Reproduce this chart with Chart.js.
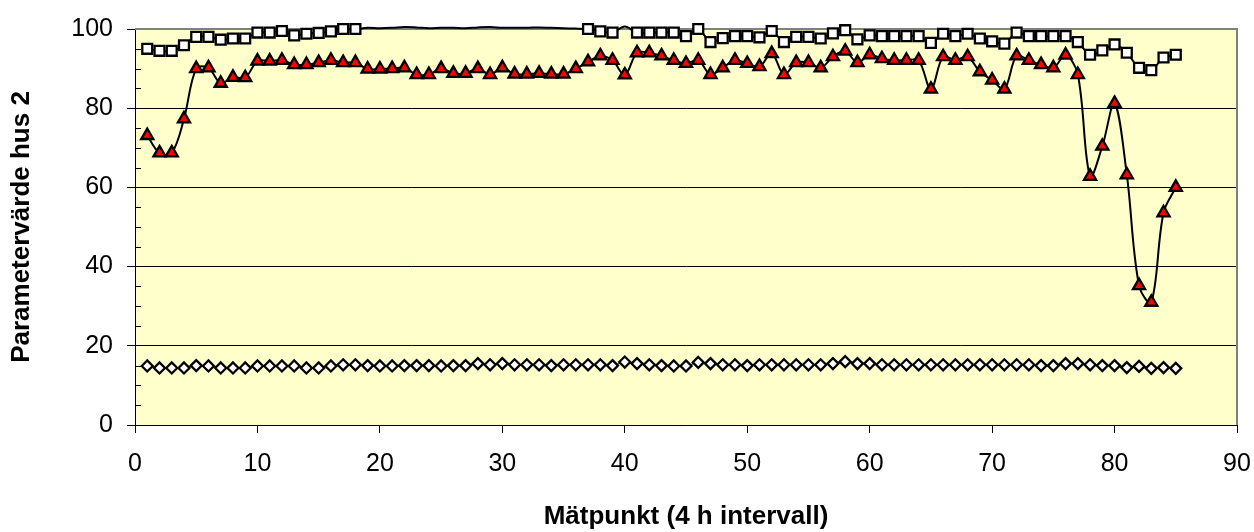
<!DOCTYPE html>
<html>
<head>
<meta charset="utf-8">
<script src="https://cdn.jsdelivr.net/npm/chart.js@4/dist/chart.umd.min.js"></script>
<style>
  body { margin: 0; background: #fff; }
  #wrap { width: 1254px; height: 532px; }
</style>
</head>
<body>
<div id="wrap"><canvas id="chart1"></canvas></div>
<script>
// mätpunkter (x)
const matpunkt = [1,2,3,4,5,6,7,8,9,10,11,12,13,14,15,16,17,18,19,20,
  21,22,23,24,25,26,27,28,29,30,31,32,33,34,35,36,37,38,39,40,
  41,42,43,44,45,46,47,48,49,50,51,52,53,54,55,56,57,58,59,60,
  61,62,63,64,65,66,67,68,69,70,71,72,73,74,75,76,77,78,79,80,
  81,82,83,84,85];

// fyrkanter (övre serien), värden över 100 hamnar utanför skalan
const serieKvadrat = [95.0,94.5,94.5,95.9,98.0,98.0,97.3,97.6,97.6,99.1,
  99.1,99.5,98.4,98.8,99.0,99.4,100,100,100.3,100.2,
  100.3,100.5,100.4,100.2,100.3,100.3,100.2,100.4,100.5,100.3,
  100.3,100.3,100.4,100.3,100.2,100.1,100,99.4,99.1,100.6,
  99.1,99.1,99.1,99.1,98.2,100,96.7,97.7,98.2,98.2,
  97.9,99.5,96.7,98.0,98.0,97.6,98.9,99.7,97.4,98.4,
  98.2,98.2,98.2,98.2,96.5,98.8,98.2,98.8,97.6,96.9,
  96.3,99.1,98.2,98.2,98.2,98.2,96.7,93.5,94.6,96.1,
  94.0,90.2,89.6,92.8,93.5];

// röda trianglar
const serieTriangel = [73.1,68.7,68.7,77.3,90.0,90.2,86.3,87.8,87.7,91.9,
  91.9,92.1,91.0,91.0,91.5,92.1,91.5,91.5,89.9,89.9,
  90.0,90.2,88.5,88.5,90.0,88.8,88.8,90.0,88.5,90.2,
  88.6,88.6,88.8,88.6,88.6,90.0,91.7,93.2,92.1,88.4,
  94.0,94.0,93.2,92.1,91.3,92.1,88.5,90.2,92.1,91.3,
  90.5,93.8,88.5,91.5,91.5,90.2,93.0,94.4,91.5,93.5,
  92.5,92.1,92.1,92.1,84.8,93.0,92.1,93.0,89.2,87.1,
  84.8,93.2,92.1,91.0,90.2,93.4,88.5,62.8,70.4,81.2,
  63.2,35.2,31.0,53.6,60.0];

// romber (nedre serien)
const serieRomb = [14.9,14.4,14.4,14.4,15.0,14.9,14.4,14.4,14.4,14.9,
  14.9,14.9,14.9,14.4,14.4,14.9,15.2,15.2,15.0,14.9,
  14.9,15.0,15.0,15.0,14.9,15.0,15.0,15.5,15.2,15.5,
  15.2,15.2,15.2,15.0,15.2,15.2,15.2,15.2,15.0,15.9,
  15.5,15.2,15.0,14.9,14.9,15.8,15.5,15.2,15.2,15.0,
  15.2,15.2,15.2,15.2,15.2,15.2,15.5,16.0,15.5,15.5,
  15.2,15.2,15.2,15.2,15.2,15.2,15.2,15.2,15.2,15.2,
  15.2,15.2,15.2,15.0,15.0,15.5,15.5,15.2,15.0,15.0,
  14.5,14.8,14.3,14.5,14.3];

const xTicks = [0,10,20,30,40,50,60,70,80,90];
const yTicks = [0,20,40,60,80,100];

function toPoints(vals) {
  return vals.map((v, i) => ({ x: matpunkt[i], y: v }));
}

const plotBg = {
  id: 'plotBg',
  beforeDraw(chart) {
    const a = chart.chartArea, ctx = chart.ctx;
    ctx.save();
    ctx.fillStyle = '#FFFFCC';
    ctx.fillRect(a.left, a.top, a.right - a.left, a.bottom - a.top);
    ctx.restore();
  },
  beforeDatasetsDraw(chart) {
    const a = chart.chartArea, ctx = chart.ctx, ys = chart.scales.y;
    ctx.save();
    ctx.strokeStyle = '#808080';
    ctx.lineWidth = 2;
    ctx.beginPath();
    ctx.moveTo(a.left, a.top);
    ctx.lineTo(a.right, a.top);
    ctx.lineTo(a.right, a.bottom);
    ctx.stroke();
    // små streck var 5:e enhet, inåt
    ctx.strokeStyle = '#000';
    ctx.lineWidth = 1;
    for (let v = 5; v < 100; v += 5) {
      if (v % 20 === 0) continue;
      const y = Math.round(ys.getPixelForValue(v)) + 0.5;
      ctx.beginPath();
      ctx.moveTo(a.left, y);
      ctx.lineTo(a.left + 6, y);
      ctx.stroke();
    }
    ctx.restore();
  }
};

const font = 'Liberation Sans, Arial, sans-serif';

new Chart('chart1', {
  type: 'line',
  data: {
    datasets: [
      {
        data: toPoints(serieKvadrat),
        borderColor: '#000',
        borderWidth: 2,
        tension: 0.35,
        pointStyle: 'rect',
        pointRadius: ctx => (ctx.raw && ctx.raw.y > 100 ? 0 : 7),
        pointBackgroundColor: '#fff',
        pointBorderColor: '#000',
        pointBorderWidth: 2.3,
        clip: false
      },
      {
        data: toPoints(serieTriangel),
        borderColor: '#000',
        borderWidth: 2,
        tension: 0.35,
        pointStyle: 'triangle',
        pointRadius: 7,
        pointBackgroundColor: '#FF0000',
        pointBorderColor: '#000',
        pointBorderWidth: 2.3,
        clip: false
      },
      {
        data: toPoints(serieRomb),
        borderColor: '#000',
        borderWidth: 1,
        tension: 0.35,
        pointStyle: 'rectRot',
        pointRadius: 5.5,
        pointBackgroundColor: '#fff',
        pointBorderColor: '#000',
        pointBorderWidth: 2.3,
        clip: false
      }
    ]
  },
  options: {
    responsive: true,
    maintainAspectRatio: false,
    animation: false,
    layout: { padding: { top: 26, right: 17, left: 0, bottom: 0 } },
    plugins: { legend: { display: false }, tooltip: { enabled: false } },
    scales: {
      x: {
        type: 'linear',
        min: 0,
        max: 90,
        afterBuildTicks: s => { s.ticks = xTicks.map(v => ({ value: v })); },
        afterFit: s => { s.height = 107; s.paddingLeft = 0; s.paddingRight = 0; },
        ticks: { color: '#000', font: { family: font, size: 25 }, padding: 16, maxRotation: 0 },
        grid: { drawOnChartArea: false, drawTicks: true, tickLength: 8, tickColor: '#000' },
        border: { color: '#000', width: 1 },
        title: {
          display: true,
          text: 'Mätpunkt (4 h intervall)',
          color: '#000',
          font: { family: font, size: 26, weight: 'bold' },
          padding: { top: 0, bottom: 0 }
        }
      },
      y: {
        min: 0,
        max: 100,
        afterBuildTicks: s => { s.ticks = yTicks.map(v => ({ value: v })); },
        afterFit: s => { s.width = 135; },
        ticks: { color: '#000', font: { family: font, size: 25 }, padding: 14 },
        grid: {
          color: ctx => (ctx.tick && ctx.tick.value === 100 ? 'rgba(0,0,0,0)' : '#000'),
          lineWidth: 1,
          tickLength: 8,
          tickColor: '#000'
        },
        border: { color: '#000', width: 1 },
        title: {
          display: true,
          text: 'Parametervärde hus 2',
          color: '#000',
          font: { family: font, size: 26, weight: 'bold' },
          padding: { top: 6, bottom: 0 }
        }
      }
    }
  },
  plugins: [plotBg]
});
</script>
</body>
</html>
